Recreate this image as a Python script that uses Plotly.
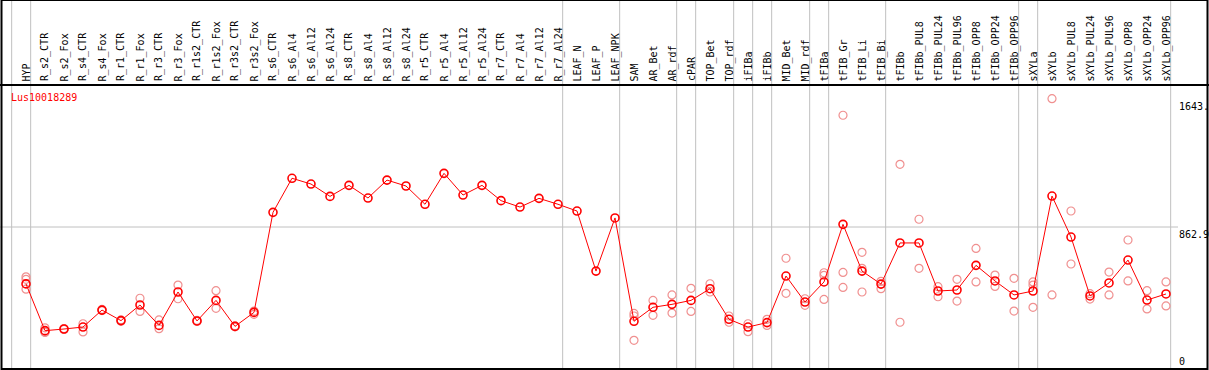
import plotly.graph_objects as go

title = "Lus10018289"
categories = ["HYP", "R_s2_CTR", "R_s2_Fox", "R_s4_CTR", "R_s4_Fox", "R_r1_CTR", "R_r1_Fox",
              "R_r3_CTR", "R_r3_Fox", "R_r1s2_CTR", "R_r1s2_Fox", "R_r3s2_CTR", "R_r3s2_Fox",
              "R_s6_CTR", "R_s6_Al4", "R_s6_Al12", "R_s6_Al24", "R_s8_CTR", "R_s8_Al4",
              "R_s8_Al12", "R_s8_Al24", "R_r5_CTR", "R_r5_Al4", "R_r5_Al12", "R_r5_Al24",
              "R_r7_CTR", "R_r7_Al4", "R_r7_Al12", "R_r7_Al24", "LEAF_N", "LEAF_P", "LEAF_NPK",
              "SAM", "AR_Bet", "AR_rdf", "cPAR", "TOP_Bet", "TOP_rdf", "iFIBa", "iFIBb",
              "MID_Bet", "MID_rdf", "tFIBa", "tFIB_Gr", "tFIB_Li", "tFIB_Bi", "tFIBb",
              "tFIBb_PUL8", "tFIBb_PUL24", "tFIBb_PUL96", "tFIBb_OPP8", "tFIBb_OPP24",
              "tFIBb_OPP96", "sXYLa", "sXYLb", "sXYLb_PUL8", "sXYLb_PUL24", "sXYLb_PUL96",
              "sXYLb_OPP8", "sXYLb_OPP24", "sXYLb_OPP96"]

means = [517, 233, 243, 255, 358, 294, 389, 265, 468, 292, 417, 259, 344,
         952, 1159, 1124, 1049, 1116, 1039, 1148, 1112, 1001, 1189, 1057, 1116,
         1023, 984, 1037, 1001, 960, 595, 918,
         290, 375, 393, 417, 488, 302, 255, 282, 565, 407, 529, 879, 595, 516, 766,
         766, 474, 480, 630, 535, 450, 474, 1051, 802, 444, 523, 662, 419, 456]

replicates = [[560, 545, 485], [250, 225, 222], [245, 240], [275, 225], [362, 355],
              [298, 290], [430, 350], [298, 245], [510, 427], [295, 289], [476, 369],
              [262, 256], [352, 332],
              [], [], [], [], [], [], [], [], [], [], [], [], [], [], [], [], [], [], [],
              [338, 322, 174], [417, 326], [450, 340], [490, 350], [518, 468], [322, 284],
              [275, 227], [302, 265], [673, 460], [427, 387], [585, 569, 423],
              [1542, 587, 496], [709, 612, 468], [533, 488], [1244, 284],
              [910, 612], [500, 439], [545, 413], [733, 529], [571, 502], [551, 352],
              [529, 510, 375], [1643, 450], [960, 638], [458, 425], [589, 450],
              [784, 535], [476, 365], [529, 383]]

# index of last category in each group (group separators)
group_ends = [-1, 0, 28, 31, 34, 35, 37, 38, 39, 41, 42, 45, 52, 53, 60]

y_labels = ["1643.", "862.9", "0"]
y_label_values = [1643, 862.9, 0]
mid_value = 862.9

W, H = 1209, 370
x = list(range(len(categories)))

rx, ry = [], []
for i, reps in enumerate(replicates):
    for v in reps:
        rx.append(i)
        ry.append(v)

fig = go.Figure()
fig.add_trace(go.Scatter(x=rx, y=ry, mode="markers",
                         marker=dict(symbol="circle-open", size=8, color="#f09090",
                                     line=dict(width=1.2, color="#f09090")),
                         hoverinfo="skip", showlegend=False))
fig.add_trace(go.Scatter(x=x, y=means, mode="lines+markers",
                         line=dict(color="#ff0000", width=1),
                         marker=dict(symbol="circle-open", size=8, color="#ff0000",
                                     line=dict(width=1.6, color="#ff0000")),
                         showlegend=False))

px0 = 26.0
step = 19.0
xmin = -px0 / step
xmax = (W - px0) / step

shapes = []
for g in group_ends:
    shapes.append(dict(type="line", xref="x", yref="paper", x0=g + 0.245, x1=g + 0.245,
                       y0=0, y1=1, line=dict(color="#c0c0c0", width=1), layer="below"))
shapes.append(dict(type="line", xref="paper", yref="y", x0=0, x1=1178 / W,
                   y0=mid_value, y1=mid_value, line=dict(color="#c0c0c0", width=1),
                   layer="below"))
# frame
shapes.append(dict(type="rect", xref="paper", yref="paper", x0=1.5 / W, x1=1207.5 / W,
                   y0=1 - 369 / H, y1=1, line=dict(color="black", width=2)))
shapes.append(dict(type="line", xref="paper", yref="paper", x0=0, x1=1,
                   y0=1 - 85 / H, y1=1 - 85 / H, line=dict(color="black", width=2)))

annotations = []
font = "DejaVu Sans Mono"
for i, c in enumerate(categories):
    annotations.append(dict(x=i, xref="x", y=1 - 83.5 / H, yref="paper", text=c,
                            textangle=-90, showarrow=False, xanchor="center",
                            yanchor="bottom", font=dict(family=font, size=10, color="black")))
annotations.append(dict(x=9 / W, xref="paper", y=1 - 97 / H, yref="paper", text=title,
                        showarrow=False, xanchor="left", yanchor="middle",
                        font=dict(family=font, size=10, color="#ff0000")))
for lab, v in zip(y_labels, y_label_values):
    annotations.append(dict(x=1177 / W, xref="paper", y=v, yref="y", text=lab,
                            showarrow=False, xanchor="left",
                            yanchor="bottom" if v == 0 else "top",
                            font=dict(family=font, size=10, color="black")))

fig.update_layout(
    width=W, height=H,
    margin=dict(l=0, r=0, t=0, b=0),
    paper_bgcolor="white", plot_bgcolor="white",
    xaxis=dict(range=[xmin, xmax], visible=False, showgrid=False, zeroline=False),
    yaxis=dict(range=[0, 2 * mid_value], domain=[1 - 369 / H, 1 - 85 / H], visible=False,
               showgrid=False, zeroline=False),
    shapes=shapes, annotations=annotations,
)

fig.write_html("out.html", config={"displayModeBar": False},
               post_script="document.body.style.margin='0';document.body.style.overflow='hidden';")
